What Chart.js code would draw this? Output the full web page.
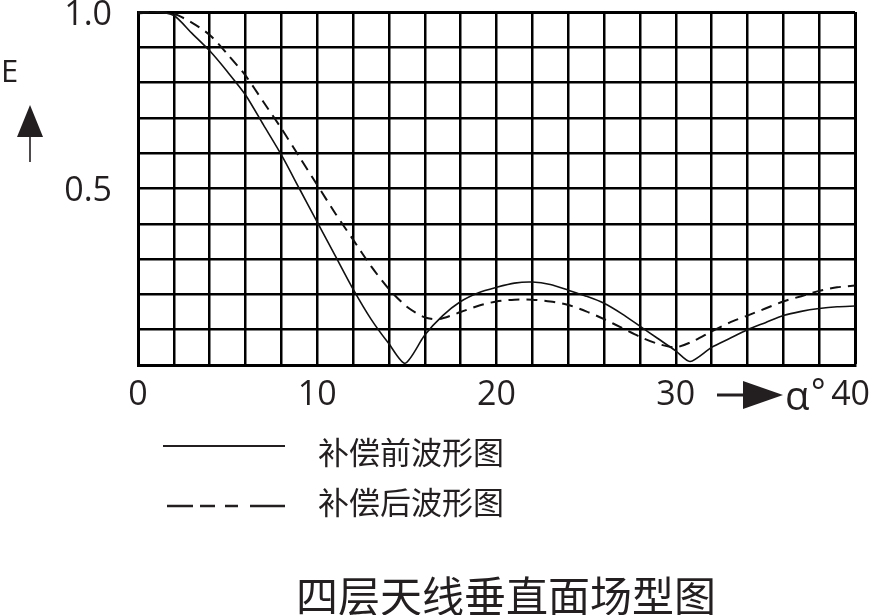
<!DOCTYPE html>
<html>
<head>
<meta charset="utf-8">
<script src="https://cdn.jsdelivr.net/npm/chart.js@4"></script>
<style>
  html, body { margin: 0; padding: 0; background: #fff; }
  #wrap { width: 871px; height: 615px; }
</style>
</head>
<body>
<div id="wrap"><canvas id="myChart" width="871" height="615"></canvas></div>
<script>
// angle alpha (degrees) and field strength E
const alphaBefore = [0, 1, 2, 3, 4, 5, 6, 7, 8, 9, 10, 11, 12, 13, 14, 14.9, 16, 17, 18, 19, 20, 21, 22, 23, 24, 25, 26, 27, 28, 29, 30, 30.8, 32, 33, 34, 35, 36, 37, 38, 39, 40];
const eBefore = [0.995, 1.0, 0.99, 0.94, 0.89, 0.83, 0.765, 0.68, 0.595, 0.5, 0.405, 0.31, 0.215, 0.13, 0.06, 0.005, 0.085, 0.14, 0.18, 0.205, 0.22, 0.232, 0.235, 0.228, 0.212, 0.195, 0.175, 0.145, 0.11, 0.075, 0.04, 0.01, 0.05, 0.075, 0.1, 0.12, 0.14, 0.152, 0.16, 0.165, 0.167];

const alphaAfter = [0, 1, 2, 3, 4, 5, 6, 7, 8, 9, 10, 11, 12, 13, 14, 15, 16, 16.8, 18, 19, 20, 21, 22, 23, 24, 25, 26, 27, 28, 29, 30, 31, 32, 33, 34, 35, 36, 37, 38, 39, 40];
const eAfter = [1.0, 1.0, 0.995, 0.97, 0.935, 0.88, 0.82, 0.745, 0.67, 0.59, 0.51, 0.43, 0.355, 0.28, 0.215, 0.165, 0.135, 0.13, 0.15, 0.168, 0.18, 0.185, 0.185, 0.18, 0.17, 0.152, 0.13, 0.105, 0.08, 0.06, 0.05, 0.068, 0.095, 0.12, 0.14, 0.16, 0.18, 0.195, 0.21, 0.22, 0.225];

const xLabels = [0, 10, 20, 30, 40];
const yLabels = ['1.0', '0.5'];
const legendNames = ['补偿前波形图', '补偿后波形图'];
const chartTitle = '四层天线垂直面场型图';

const ink = '#231f20';
const numFont = '"Open Sans", "DejaVu Sans", sans-serif';
const cjkFont = '"Noto Sans CJK SC", sans-serif';

function toPoints(xs, ys) {
    return xs.map(function (x, i) { return { x: x, y: ys[i] }; });
}

function noPad(scale) {
    scale.paddingLeft = 0;
    scale.paddingRight = 0;
    scale.paddingTop = 0;
    scale.paddingBottom = 0;
}

const extras = {
    id: 'extras',
    afterDraw: function (chart) {
        const ctx = chart.ctx;
        const xs = chart.scales.x;
        ctx.save();
        ctx.fillStyle = ink;
        ctx.strokeStyle = ink;

        // y axis name with up arrow
        ctx.font = '31px ' + numFont;
        ctx.textAlign = 'left';
        ctx.textBaseline = 'alphabetic';
        ctx.fillText('E', 1, 82);
        ctx.beginPath();
        ctx.moveTo(30, 105);
        ctx.lineTo(17, 137);
        ctx.lineTo(43, 137);
        ctx.closePath();
        ctx.fill();
        ctx.lineWidth = 1.6;
        ctx.beginPath();
        ctx.moveTo(30, 136);
        ctx.lineTo(30, 162);
        ctx.stroke();

        // x axis arrow and alpha before the last tick
        const x40 = xs.getPixelForValue(40);
        const ya = 395;
        ctx.lineWidth = 3;
        ctx.beginPath();
        ctx.moveTo(x40 - 138, ya);
        ctx.lineTo(x40 - 108, ya);
        ctx.stroke();
        ctx.beginPath();
        ctx.moveTo(x40 - 112, ya - 14);
        ctx.lineTo(x40 - 112, ya + 14);
        ctx.lineTo(x40 - 72, ya);
        ctx.closePath();
        ctx.fill();
        ctx.font = '40px ' + numFont;
        ctx.fillText('α', x40 - 70, 410);
        ctx.font = '34px ' + numFont;
        ctx.fillText('°', x40 - 44, 404);

        // legend
        ctx.lineWidth = 2;
        ctx.beginPath();
        ctx.moveTo(163, 446);
        ctx.lineTo(285, 446);
        ctx.stroke();
        ctx.lineWidth = 2.5;
        [[167, 193], [200, 215], [225, 238], [250, 285]].forEach(function (s) {
            ctx.beginPath();
            ctx.moveTo(s[0], 506);
            ctx.lineTo(s[1], 506);
            ctx.stroke();
        });
        ctx.font = '31px ' + cjkFont;
        ctx.textBaseline = 'middle';
        ctx.fillText(legendNames[0], 318, 452);
        ctx.fillText(legendNames[1], 318, 502);

        // title
        ctx.font = '42px ' + cjkFont;
        ctx.textAlign = 'center';
        ctx.fillText(chartTitle, 506, 596);
        ctx.restore();
    }
};

const ctx = document.getElementById('myChart').getContext('2d');
new Chart(ctx, {
    type: 'line',
    data: {
        datasets: [{
            label: legendNames[0],
            data: toPoints(alphaBefore, eBefore),
            borderColor: '#111',
            borderWidth: 1.6,
            pointRadius: 0,
            tension: 0.25,
            clip: 6
        }, {
            label: legendNames[1],
            data: toPoints(alphaAfter, eAfter),
            borderColor: '#111',
            borderWidth: 2,
            borderDash: [11, 7],
            pointRadius: 0,
            tension: 0.25,
            clip: 6
        }]
    },
    options: {
        responsive: false,
        animation: false,
        events: [],
        layout: {
            autoPadding: false,
            padding: { left: 0, top: 12, right: 16, bottom: 0 }
        },
        plugins: {
            legend: { display: false },
            tooltip: { enabled: false }
        },
        scales: {
            x: {
                type: 'linear',
                min: 0,
                max: 40,
                afterFit: function (scale) { scale.height = 250; noPad(scale); },
                border: { display: true, color: '#000', width: 3 },
                grid: {
                    color: '#000',
                    lineWidth: function (c) { return (c.tick && c.tick.value === 40) ? 3 : 2.5; },
                    drawTicks: false
                },
                ticks: {
                    stepSize: 2,
                    autoSkip: false,
                    maxRotation: 0,
                    padding: 10,
                    color: ink,
                    font: { family: numFont, size: 34 },
                    callback: function (v) {
                        if (v === 40) return '40 ';
                        return xLabels.indexOf(v) >= 0 ? String(v) : '';
                    }
                }
            },
            y: {
                min: 0,
                max: 1,
                afterFit: function (scale) { scale.width = 138; noPad(scale); },
                border: { display: true, color: '#000', width: 3 },
                grid: {
                    color: '#000',
                    lineWidth: function (c) { return (c.tick && Math.abs(c.tick.value - 1) < 1e-6) ? 3 : 2.5; },
                    drawTicks: false
                },
                ticks: {
                    stepSize: 0.1,
                    autoSkip: false,
                    padding: 26,
                    labelOffset: 3,
                    color: ink,
                    font: { family: numFont, size: 34 },
                    callback: function (v) {
                        if (Math.abs(v - 1) < 1e-6) return yLabels[0];
                        if (Math.abs(v - 0.5) < 1e-6) return yLabels[1];
                        return '';
                    }
                }
            }
        }
    },
    plugins: [extras]
});
</script>
</body>
</html>
